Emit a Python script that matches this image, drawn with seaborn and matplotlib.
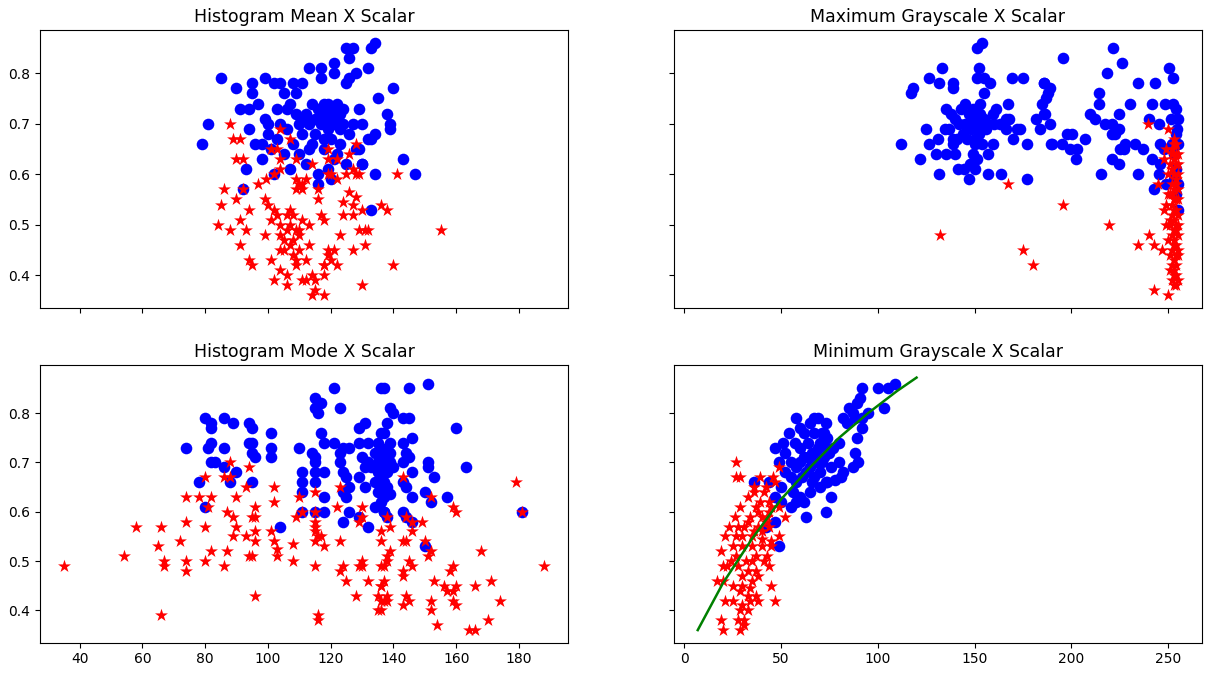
import pandas as pd
import matplotlib
matplotlib.use("Agg")
import matplotlib.pyplot as plt
import seaborn as sns

# (x, y) pairs, one list per panel and class
tl_blue = [(79, 0.66), (81, 0.70), (85, 0.79), (90, 0.77), (91, 0.73), (92, 0.57), (94, 0.73), (93, 0.61),
           (94, 0.69), (95, 0.78), (95, 0.76), (96, 0.66), (97, 0.74), (98, 0.63), (98, 0.66), (99, 0.71),
           (99, 0.79), (100, 0.68), (100, 0.70), (101, 0.65), (102, 0.78), (102, 0.60), (103, 0.73), (103, 0.67),
           (104, 0.78), (104, 0.70), (105, 0.76), (105, 0.64), (106, 0.73), (106, 0.69), (107, 0.74), (107, 0.61),
           (108, 0.78), (108, 0.66), (109, 0.72), (109, 0.76), (110, 0.70), (110, 0.64), (111, 0.78), (111, 0.68),
           (112, 0.72), (112, 0.62), (113, 0.81), (113, 0.70), (114, 0.74), (114, 0.66), (115, 0.71), (115, 0.68),
           (116, 0.73), (116, 0.60), (117, 0.81), (117, 0.70), (117, 0.79), (118, 0.72), (118, 0.65), (118, 0.74),
           (119, 0.69), (119, 0.71), (120, 0.73), (120, 0.67), (121, 0.82), (121, 0.70), (122, 0.74), (122, 0.64),
           (123, 0.72), (123, 0.66), (125, 0.85), (124, 0.70), (125, 0.62), (125, 0.78), (127, 0.85), (126, 0.68),
           (127, 0.70), (126, 0.79), (126, 0.83), (128, 0.80), (128, 0.65), (129, 0.73), (130, 0.70), (130, 0.62),
           (132, 0.81), (132, 0.67), (133, 0.53), (133, 0.85), (134, 0.86), (134, 0.68), (134, 0.60), (135, 0.75),
           (133, 0.67), (138, 0.72), (139, 0.70), (139, 0.69), (140, 0.77), (143, 0.63), (147, 0.60), (120, 0.59),
           (116, 0.58), (119, 0.61), (121, 0.63), (113, 0.65), (111, 0.71), (117, 0.72), (119, 0.74), (116, 0.71),
           (118, 0.70), (121, 0.71), (118, 0.67), (123, 0.69), (121, 0.80), (129, 0.65), (130, 0.62), (124, 0.73)]
tl_red = [(88, 0.70), (89, 0.67), (91, 0.67), (104, 0.69), (107, 0.67), (90, 0.63), (92, 0.63), (101, 0.65),
          (103, 0.65), (104, 0.63), (109, 0.63), (114, 0.62), (119, 0.65), (104, 0.61), (102, 0.60), (99.5, 0.59),
          (97, 0.58), (92, 0.57), (86, 0.57), (90, 0.55), (85, 0.54), (94, 0.53), (99, 0.55), (100, 0.54),
          (102, 0.53), (103, 0.52), (101, 0.51), (91, 0.51), (84, 0.50), (88, 0.49), (93, 0.49), (99, 0.48),
          (91, 0.46), (94, 0.43), (95, 0.42), (101, 0.43), (104, 0.41), (106, 0.40), (102, 0.39), (106, 0.38),
          (107, 0.53), (108, 0.52), (107, 0.50), (109, 0.49), (110, 0.49), (110, 0.48), (111, 0.51), (104, 0.50),
          (104, 0.48), (105, 0.47), (106, 0.49), (104, 0.45), (105, 0.45), (107, 0.46), (108, 0.44), (109, 0.43),
          (109, 0.42), (113, 0.46), (112, 0.43), (111, 0.39), (112, 0.39), (114, 0.40), (115, 0.39), (114, 0.36),
          (115, 0.37), (118, 0.40), (118, 0.42), (119, 0.44), (109, 0.59), (111, 0.58), (111, 0.57), (110, 0.58),
          (112, 0.59), (109, 0.57), (116, 0.57), (116, 0.55), (117, 0.52), (118, 0.51), (119, 0.60), (119, 0.63),
          (122, 0.63), (128, 0.66), (126, 0.64), (120, 0.60), (122, 0.59), (125, 0.60), (127, 0.61), (128, 0.60),
          (129, 0.60), (141, 0.60), (126, 0.565), (128, 0.555), (124, 0.545), (127, 0.54), (130, 0.53), (136, 0.54),
          (138, 0.53), (124, 0.52), (127, 0.52), (129, 0.49), (131, 0.49), (132, 0.49), (123, 0.48), (155, 0.49),
          (131, 0.46), (119, 0.45), (121, 0.45), (127, 0.45), (118, 0.42), (120, 0.43), (122, 0.42), (140, 0.42),
          (130, 0.38), (118, 0.36), (106, 0.52), (108, 0.47), (113, 0.50), (110, 0.45)]

tr_blue = [(153.6, 0.86), (151.3, 0.85), (133, 0.81), (126.5, 0.79), (131.6, 0.78), (139, 0.78), (139, 0.77),
           (118, 0.77), (117, 0.76), (152, 0.81), (151, 0.79), (155, 0.79), (158, 0.78), (155, 0.76), (169.5, 0.79),
           (175, 0.79), (186, 0.78), (184.6, 0.74), (186, 0.72), (181.6, 0.71), (184, 0.69), (167, 0.74), (168, 0.71),
           (166, 0.71), (159.5, 0.72), (125, 0.69), (112, 0.66), (126.5, 0.66), (131, 0.67), (134.5, 0.69), (139, 0.67),
           (139, 0.66), (122, 0.63), (130, 0.64), (135, 0.64), (140, 0.64), (147.5, 0.62), (149, 0.64), (150, 0.66),
           (151, 0.63), (148, 0.62), (157, 0.64), (159.6, 0.66), (170, 0.67), (177, 0.66), (172, 0.69), (173.5, 0.69),
           (166, 0.69), (163, 0.70), (161, 0.73), (141.5, 0.61), (144.4, 0.61), (150, 0.61), (131.5, 0.60), (147, 0.59),
           (157, 0.60), (163.6, 0.60), (177, 0.59), (189.4, 0.66), (135, 0.73), (138, 0.72), (140, 0.71), (143, 0.73),
           (145, 0.70), (147, 0.72), (149, 0.71), (151, 0.70), (153, 0.72), (155, 0.71), (157, 0.70), (144, 0.68),
           (148, 0.69), (152, 0.68), (156, 0.69), (160, 0.70), (146, 0.67), (150, 0.67), (154, 0.66), (142, 0.70),
           (137, 0.69), (141, 0.67), (153, 0.74), (149, 0.73), (145, 0.74), (221.4, 0.85), (195.5, 0.83), (226.3, 0.82),
           (218.3, 0.80), (250.2, 0.81), (252.4, 0.79), (186, 0.78), (189, 0.77), (188, 0.76), (187, 0.75),
           (234.6, 0.78), (243.3, 0.78), (214.3, 0.76), (214.3, 0.74), (230.3, 0.74), (241.5, 0.74), (240.2, 0.71),
           (248.4, 0.74), (252.7, 0.74), (251.6, 0.71), (186.3, 0.72), (209.6, 0.72), (212.2, 0.71), (224.6, 0.72),
           (188.9, 0.70), (217.4, 0.70), (220.9, 0.70), (224.3, 0.69), (222.6, 0.68), (220.9, 0.68), (197.6, 0.68),
           (200.2, 0.68), (207, 0.67), (190, 0.66), (195, 0.66), (199.3, 0.65), (202.7, 0.65), (202.4, 0.63),
           (227.7, 0.66), (226.9, 0.65), (225.2, 0.65), (232.9, 0.66), (236.7, 0.65), (245, 0.70), (254.5, 0.69),
           (245.9, 0.66), (247.6, 0.65), (241.5, 0.63), (220.9, 0.63), (224.6, 0.62), (215.3, 0.60), (234.6, 0.60),
           (245, 0.60), (245.9, 0.62), (248.6, 0.58), (242.4, 0.57), (254, 0.73), (255, 0.71), (254, 0.68),
           (255, 0.66), (253, 0.64), (254, 0.61), (255, 0.58), (254, 0.56), (255, 0.53), (253, 0.59), (252, 0.66)]
tr_red = [(167, 0.58), (132, 0.48), (175, 0.45), (180, 0.42), (239.5, 0.70), (250, 0.69), (195.5, 0.54),
          (219.5, 0.50), (240, 0.48), (234.6, 0.46), (242.4, 0.46), (247, 0.45), (244.6, 0.58), (242.4, 0.37),
          (250, 0.36), (253, 0.67), (254, 0.66), (252, 0.65), (255, 0.64), (253, 0.63), (251, 0.62), (254, 0.62),
          (252, 0.61), (255, 0.60), (253, 0.60), (254, 0.59), (252, 0.58), (253, 0.57), (255, 0.57), (251, 0.56),
          (254, 0.55), (253, 0.55), (252, 0.54), (254, 0.53), (253, 0.53), (255, 0.52), (252, 0.52), (253, 0.51),
          (254, 0.50), (251, 0.50), (253, 0.49), (254, 0.49), (252, 0.48), (255, 0.48), (253, 0.47), (254, 0.46),
          (253, 0.46), (252, 0.45), (254, 0.44), (255, 0.44), (253, 0.43), (252, 0.42), (254, 0.42), (253, 0.41),
          (251, 0.41), (254, 0.40), (253, 0.40), (255, 0.39), (252, 0.39), (253, 0.38), (254, 0.38), (252, 0.64),
          (253, 0.66), (254, 0.58), (251, 0.51), (249, 0.54), (248, 0.53), (250, 0.60), (248, 0.63), (249, 0.65),
          (250, 0.56), (249, 0.50), (250, 0.47), (251, 0.44), (252, 0.56), (255, 0.62), (255, 0.55), (255, 0.50),
          (255, 0.45), (254, 0.64)]

bl_blue = [(74, 0.73), (78, 0.66), (80, 0.79), (80, 0.61), (81, 0.73), (82, 0.78), (82, 0.77), (82, 0.74),
           (82, 0.70), (83, 0.70), (86, 0.79), (86, 0.73), (86, 0.69), (88, 0.66), (89, 0.78), (90, 0.68),
           (94, 0.78), (95, 0.77), (94, 0.74), (95, 0.74), (95, 0.72), (96, 0.71), (95, 0.66), (101, 0.76),
           (101, 0.73), (101, 0.71), (104, 0.57), (110, 0.73), (111, 0.68), (111, 0.66), (111, 0.64), (111, 0.60),
           (114, 0.72), (115, 0.71), (115, 0.70), (115, 0.68), (115, 0.66), (115, 0.83), (116, 0.82), (117, 0.82),
           (115, 0.81), (116, 0.80), (121, 0.85), (123, 0.81), (117, 0.76), (118, 0.74), (121, 0.74), (118, 0.68),
           (118, 0.63), (115, 0.60), (118, 0.60), (123, 0.72), (124, 0.73), (126, 0.73), (123, 0.70), (124, 0.68),
           (125, 0.67), (126, 0.65), (124, 0.64), (125, 0.63), (126, 0.60), (124, 0.58), (129, 0.77), (131, 0.78),
           (129, 0.74), (132, 0.74), (130, 0.71), (131, 0.69), (129, 0.67), (131, 0.65), (129, 0.59), (132, 0.57),
           (135, 0.74), (136, 0.72), (135, 0.70), (137, 0.69), (135, 0.68), (136, 0.67), (134, 0.66), (137, 0.65),
           (135, 0.64), (136, 0.62), (134, 0.61), (137, 0.60), (136, 0.85), (136, 0.76), (137, 0.85), (145, 0.85),
           (151, 0.86), (139, 0.81), (140, 0.80), (143, 0.79), (145, 0.79), (138, 0.78), (160, 0.77), (137, 0.76),
           (146, 0.75), (139, 0.74), (143, 0.74), (138, 0.73), (139, 0.72), (138, 0.71), (139, 0.70), (140, 0.69),
           (138, 0.68), (144, 0.72), (145, 0.71), (143, 0.70), (151, 0.70), (151, 0.69), (163, 0.69), (146, 0.68),
           (153, 0.67), (143, 0.66), (144, 0.65), (137, 0.66), (138, 0.65), (137, 0.64), (139, 0.635), (137, 0.63),
           (150, 0.64), (152, 0.62), (146, 0.63), (157, 0.63), (137, 0.60), (143, 0.60), (144, 0.59), (146, 0.58),
           (138, 0.59), (181, 0.60), (150, 0.53), (133, 0.69), (134, 0.72), (132, 0.70)]
bl_red = [(35, 0.49), (54, 0.51), (58, 0.57), (65, 0.53), (66, 0.57), (66, 0.39), (67, 0.50), (67, 0.49),
          (72, 0.54), (74, 0.63), (74, 0.58), (74, 0.50), (74, 0.48), (78, 0.63), (80, 0.67), (80, 0.57),
          (80, 0.50), (81, 0.61), (82, 0.63), (82, 0.52), (88, 0.70), (86, 0.67), (88, 0.67), (94, 0.69),
          (93, 0.65), (90, 0.63), (87, 0.60), (89, 0.59), (96, 0.61), (95, 0.59), (96, 0.59), (102, 0.65),
          (102, 0.62), (90, 0.57), (89, 0.55), (93, 0.55), (96, 0.56), (96, 0.54), (87, 0.52), (94, 0.51),
          (95, 0.51), (86, 0.49), (101, 0.56), (102, 0.54), (103, 0.525), (103, 0.51), (108, 0.535), (108, 0.50),
          (96, 0.43), (110, 0.63), (115, 0.64), (111, 0.60), (109, 0.59), (115, 0.60), (115, 0.58), (115, 0.57),
          (115, 0.56), (116, 0.55), (115, 0.54), (117, 0.55), (118, 0.53), (115, 0.49), (116, 0.39), (116, 0.38),
          (123, 0.65), (122, 0.61), (123, 0.54), (124, 0.49), (123, 0.48), (125, 0.46), (128, 0.43), (130, 0.59),
          (129, 0.58), (130, 0.61), (130, 0.50), (130, 0.49), (129, 0.49), (132, 0.46), (136, 0.56), (136, 0.54),
          (136, 0.49), (136, 0.45), (135, 0.43), (136, 0.42), (135, 0.40), (136, 0.40), (143, 0.67), (179, 0.66),
          (152, 0.63), (159, 0.61), (160, 0.60), (181, 0.60), (138, 0.59), (144, 0.59), (146, 0.58), (149, 0.58),
          (139, 0.57), (146, 0.56), (143, 0.54), (144, 0.54), (150, 0.54), (152, 0.52), (151, 0.51), (139, 0.52),
          (138, 0.51), (138, 0.50), (137, 0.49), (168, 0.52), (188, 0.49), (145, 0.50), (146, 0.49), (143, 0.48),
          (143, 0.47), (159, 0.49), (158, 0.48), (153, 0.46), (156, 0.45), (157, 0.44), (160, 0.45), (159, 0.44),
          (166, 0.45), (171, 0.46), (137, 0.46), (136, 0.45), (138, 0.43), (137, 0.42), (138, 0.42), (144, 0.43),
          (145, 0.42), (143, 0.41), (152, 0.42), (152, 0.40), (159, 0.42), (160, 0.41), (174, 0.42), (154, 0.37),
          (164, 0.36), (166, 0.36), (170, 0.38)]

br_blue = [(36, 0.66), (44, 0.66), (42, 0.57), (47, 0.58), (47, 0.63), (47, 0.73), (49, 0.70), (49, 0.53),
           (51, 0.74), (54, 0.76), (58, 0.79), (60, 0.77), (63, 0.59), (65, 0.78), (67, 0.79), (67, 0.76),
           (52, 0.72), (55, 0.70), (57, 0.74), (60, 0.73), (62, 0.71), (52, 0.68), (55, 0.67), (58, 0.66),
           (60, 0.70), (63, 0.68), (50, 0.65), (56, 0.64), (60, 0.63), (50, 0.62), (55, 0.61), (58, 0.62),
           (62, 0.62), (65, 0.64), (68, 0.72), (70, 0.74), (72, 0.76), (74, 0.75), (73, 0.78), (69, 0.79),
           (68, 0.70), (70, 0.68), (72, 0.71), (74, 0.73), (66, 0.66), (70, 0.65), (73, 0.66), (76, 0.69),
           (77, 0.73), (80, 0.74), (80, 0.70), (82, 0.68), (81, 0.67), (78, 0.665), (74, 0.66), (76, 0.63),
           (73, 0.60), (82, 0.79), (84, 0.78), (88, 0.79), (85, 0.81), (87, 0.80), (89, 0.82), (91, 0.83),
           (92, 0.85), (92, 0.79), (95, 0.80), (92, 0.77), (89, 0.75), (88, 0.72), (90, 0.70), (87, 0.69),
           (100, 0.85), (105, 0.85), (109, 0.86), (103, 0.81), (64, 0.74), (66, 0.72), (62, 0.76), (75, 0.72),
           (71, 0.70), (65, 0.69), (67, 0.67), (58, 0.69), (61, 0.67), (64, 0.71), (69, 0.73), (71, 0.76)]
br_red = [(27, 0.70), (27, 0.67), (29, 0.67), (39, 0.67), (46, 0.67), (49, 0.69), (36, 0.65), (42, 0.65),
          (47, 0.66), (33, 0.63), (39, 0.62), (44, 0.62), (29, 0.61), (37, 0.61), (45, 0.61), (49, 0.61),
          (26, 0.59), (34, 0.59), (40, 0.59), (43, 0.59), (52, 0.59), (23, 0.57), (28, 0.57), (33, 0.58),
          (38, 0.57), (44, 0.57), (21, 0.55), (27, 0.55), (30, 0.55), (35, 0.55), (40, 0.545), (45, 0.54),
          (49, 0.55), (25, 0.53), (30, 0.53), (35, 0.53), (40, 0.53), (45, 0.53), (19, 0.52), (27, 0.51),
          (32, 0.50), (37, 0.51), (41, 0.50), (20, 0.49), (22, 0.49), (28, 0.49), (33, 0.48), (37, 0.48),
          (44, 0.49), (30, 0.47), (35, 0.46), (38, 0.47), (17, 0.46), (20, 0.46), (25, 0.45), (30, 0.45),
          (34, 0.445), (45, 0.45), (37, 0.43), (33, 0.43), (29, 0.44), (21, 0.42), (25, 0.42), (34, 0.42),
          (38, 0.42), (47, 0.42), (30, 0.41), (33, 0.40), (29, 0.40), (19, 0.38), (28, 0.38), (31, 0.38),
          (20, 0.36), (29, 0.36), (31, 0.37), (36, 0.64), (40, 0.56), (43, 0.51), (24, 0.50), (35, 0.50),
          (41, 0.64), (44, 0.60), (38, 0.60), (42, 0.58), (31, 0.57), (36, 0.56)]

# fitted curve in the last panel
fit_x = [7, 20, 35, 50, 65, 80, 95, 110, 120]
fit_y = [0.36, 0.455, 0.545, 0.625, 0.69, 0.75, 0.80, 0.845, 0.872]

titles = ["Histogram Mean X Scalar", "Maximum Grayscale X Scalar",
          "Histogram Mode X Scalar", "Minimum Grayscale X Scalar"]
panels = [(tl_blue, tl_red), (tr_blue, tr_red), (bl_blue, bl_red), (br_blue, br_red)]

fig, axes = plt.subplots(2, 2, figsize=(12.08, 6.73), dpi=100, sharex='col', sharey='row')
fig.subplots_adjust(left=0.033, right=0.995, top=0.955, bottom=0.045, wspace=0.2, hspace=0.205)

for ax, title, (blue, red) in zip(axes.flat, titles, panels):
    df_b = pd.DataFrame(blue, columns=['x', 'y'])
    df_r = pd.DataFrame(red, columns=['x', 'y'])
    sns.scatterplot(data=df_b, x='x', y='y', ax=ax, color='blue', marker='o', s=70, linewidth=0)
    sns.scatterplot(data=df_r, x='x', y='y', ax=ax, color='red', marker='*', s=95, linewidth=0)
    ax.set_title(title, fontsize=12.5)
    ax.set_xlabel("")
    ax.set_ylabel("")

df_fit = pd.DataFrame({'x': fit_x, 'y': fit_y})
sns.lineplot(data=df_fit, x='x', y='y', ax=axes[1, 1], color='green', linewidth=1.8)
axes[1, 1].set_xlabel("")
axes[1, 1].set_ylabel("")

plt.savefig("out.png")
